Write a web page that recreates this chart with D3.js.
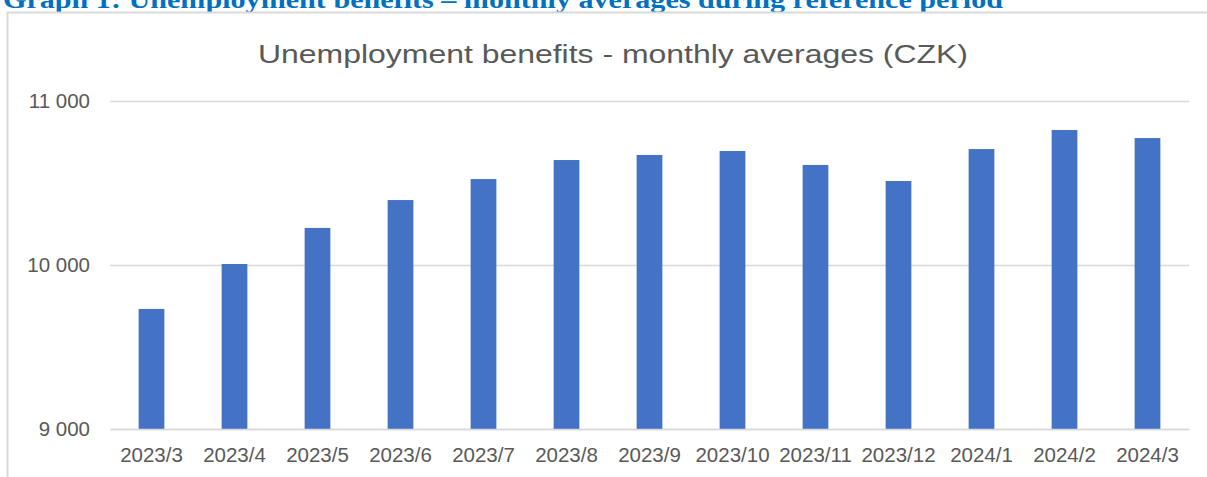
<!DOCTYPE html>
<html>
<head>
<meta charset="utf-8">
<script src="https://cdn.jsdelivr.net/npm/d3@7"></script>
<style>
  body { margin: 0; background: #fff; }
  svg { display: block; }
</style>
</head>
<body>
<svg id="chart" width="1207" height="477"></svg>
<script>
// data
const months = ['2023/3', '2023/4', '2023/5', '2023/6', '2023/7', '2023/8', '2023/9',
  '2023/10', '2023/11', '2023/12', '2024/1', '2024/2', '2024/3'];
const benefits = [9732, 10006, 10226, 10396, 10524, 10640, 10671, 10695, 10610, 10512, 10707, 10823, 10774];
const yTicks = [9000, 10000, 11000];

const svg = d3.select('#chart');
const plotLeft = 110, plotRight = 1189, plotTop = 101, plotBottom = 429;

// heading of the page, cut off at the top
svg.append('text')
  .attr('x', 3).attr('y', 8)
  .attr('textLength', 1000).attr('lengthAdjust', 'spacingAndGlyphs')
  .style('font-family', '"Liberation Serif", "Times New Roman", serif')
  .style('font-weight', 'bold').style('font-size', '26px')
  .style('fill', '#0070C0')
  .text('Graph 1: Unemployment benefits \u2013 monthly averages during reference period');

// chart frame
svg.append('rect')
  .attr('x', 7.5).attr('y', 12.5).attr('width', 1215).attr('height', 500)
  .attr('fill', 'none').attr('stroke', '#d9d9d9').attr('stroke-width', 2);

svg.append('text')
  .attr('x', 613).attr('y', 63)
  .attr('text-anchor', 'middle')
  .attr('textLength', 710).attr('lengthAdjust', 'spacingAndGlyphs')
  .style('font-family', '"Liberation Sans", Arial, sans-serif')
  .style('font-size', '25px').style('fill', '#595959')
  .text('Unemployment benefits - monthly averages (CZK)');

const x = d3.scaleBand().domain(months).range([plotLeft, plotRight]).paddingInner(0.69).paddingOuter(0.345);
const y = d3.scaleLinear().domain([9000, 11000]).range([plotBottom, plotTop]);

const fmt = v => d3.format(',')(v).replace(/,/g, ' ');

// gridlines
const yAxis = svg.append('g')
  .attr('transform', `translate(${plotLeft},0)`)
  .call(d3.axisLeft(y).tickValues(yTicks).tickFormat(fmt).tickSize(-(plotRight - plotLeft)).tickPadding(20));
yAxis.select('.domain').remove();
yAxis.selectAll('.tick line').attr('stroke', '#d9d9d9').attr('stroke-width', 1.5);
yAxis.selectAll('.tick text')
  .style('font-family', '"Liberation Sans", Arial, sans-serif')
  .style('font-size', '20.5px').style('fill', '#595959');

svg.selectAll('.bar')
  .data(benefits)
  .enter()
  .append('rect')
  .classed('bar', true)
  .attr('x', (d, i) => x(months[i]))
  .attr('y', d => y(d))
  .attr('width', x.bandwidth())
  .attr('height', d => plotBottom - y(d))
  .attr('fill', '#4472C4');

const xAxis = svg.append('g')
  .attr('transform', `translate(0,${plotBottom})`)
  .call(d3.axisBottom(x).tickSize(0).tickPadding(18.5));
xAxis.select('.domain').attr('stroke', '#d9d9d9').attr('stroke-width', 1.5);
xAxis.selectAll('.tick text')
  .style('font-family', '"Liberation Sans", Arial, sans-serif')
  .style('font-size', '20.5px').style('fill', '#595959');
</script>
</body>
</html>
